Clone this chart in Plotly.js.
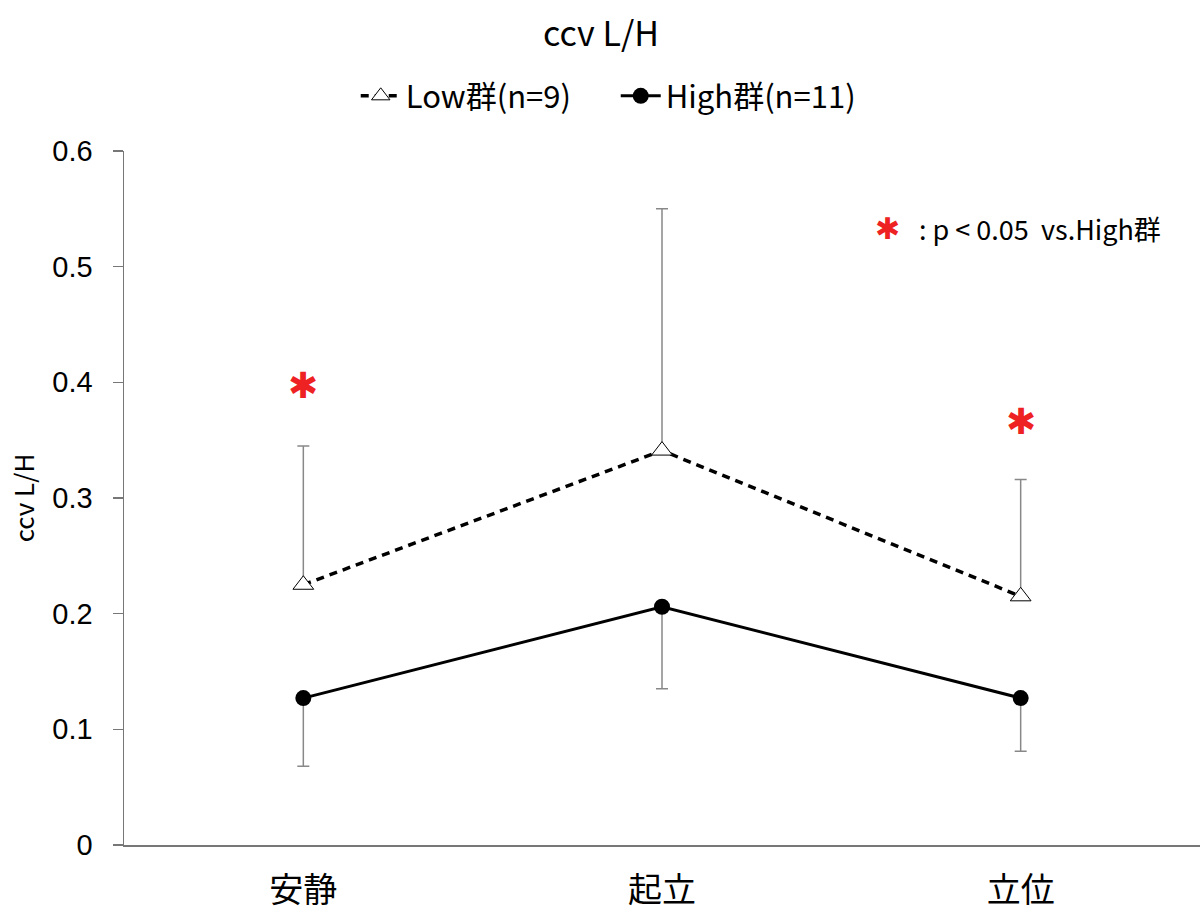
<!DOCTYPE html>
<html>
<head>
<meta charset="utf-8">
<script src="https://cdn.plot.ly/plotly-3.0.1.min.js"></script>
<style>html,body{margin:0;padding:0;background:#fff;}#chart{width:1202px;height:911px;}</style>
</head>
<body>
<div id="chart"></div>
<script>
const categories = ['安静', '起立', '立位'];
const lowMean = [0.225, 0.341, 0.215];
const lowSD = [0.120, 0.209, 0.101];
const highMean = [0.127, 0.206, 0.127];
const highSD = [0.059, 0.071, 0.046];
const sigY = [0.397, null, 0.366];
const yTicks = [0, 0.1, 0.2, 0.3, 0.4, 0.5, 0.6];

const FONT = 'Noto Sans CJK JP, Liberation Sans, sans-serif';
const zeros = categories.map(() => 0);

const traces = [
  {
    x: categories, y: lowMean, name: 'Low群(n=9)', type: 'scatter', mode: 'lines+markers',
    line: {color: '#000', width: 3.5, dash: '8px,6px'},
    marker: {symbol: 'triangle-up', size: 18, color: '#fff', line: {color: '#000', width: 1}},
    error_y: {type: 'data', array: lowSD, arrayminus: zeros, symmetric: false, color: '#888', thickness: 1.5, width: 6}
  },
  {
    x: categories, y: highMean, name: 'High群(n=11)', type: 'scatter', mode: 'lines+markers',
    line: {color: '#000', width: 3},
    marker: {symbol: 'circle', size: 16, color: '#000'},
    error_y: {type: 'data', array: zeros, arrayminus: highSD, symmetric: false, color: '#888', thickness: 1.5, width: 6}
  }
];

const annotations = [];
categories.forEach((c, i) => {
  if (sigY[i] !== null) {
    annotations.push({x: c, y: sigY[i], xref: 'x', yref: 'y', text: '✱', showarrow: false,
      font: {family: 'DejaVu Sans', size: 36, color: '#ee2222'}});
  }
});
annotations.push({x: 0.71, y: 0.888, xref: 'paper', yref: 'paper', text: '✱', showarrow: false,
  xanchor: 'center', yanchor: 'middle', font: {family: 'DejaVu Sans', size: 30, color: '#ee2222'}});
annotations.push({x: 0.737, y: 0.888, xref: 'paper', yref: 'paper', text: ': p < 0.05  vs.High群', showarrow: false,
  xanchor: 'left', yanchor: 'middle', font: {family: FONT, size: 27, color: '#000'}});

const layout = {
  width: 1202, height: 911,
  margin: {l: 124, r: 2, t: 151, b: 66},
  paper_bgcolor: '#fff', plot_bgcolor: '#fff',
  font: {family: FONT, color: '#000'},
  title: {text: 'ccv L/H', x: 0.5, xanchor: 'center', y: 0.963, yanchor: 'middle', font: {family: FONT, size: 34, color: '#000'}},
  showlegend: true,
  legend: {orientation: 'h', x: 0.457, xanchor: 'center', y: 1.079, yanchor: 'middle',
    font: {family: FONT, size: 31, color: '#000'}, itemwidth: 40, entrywidth: 205, entrywidthmode: 'pixels',
    bgcolor: 'rgba(0,0,0,0)'},
  xaxis: {
    type: 'category', range: [-0.5, 2.5], showgrid: false, zeroline: false,
    showline: true, linecolor: '#777', linewidth: 2, ticks: '',
    tickfont: {family: FONT, size: 34, color: '#000'}, ticklabelstandoff: 14
  },
  yaxis: {
    range: [0, 0.6], tickvals: yTicks, ticktext: yTicks.map(v => String(v)),
    showgrid: false, zeroline: false, showline: true, linecolor: '#777', linewidth: 1.5,
    ticks: 'outside', ticklen: 10, tickcolor: '#777', tickwidth: 1.5,
    tickfont: {family: 'Liberation Sans, sans-serif', size: 29, color: '#000'}, ticklabelstandoff: 14,
    title: {text: 'ccv L/H', font: {family: FONT, size: 26, color: '#000'}, standoff: 10}
  },
  annotations: annotations
};

Plotly.newPlot('chart', traces, layout, {displayModeBar: false, staticPlot: true});
</script>
</body>
</html>
